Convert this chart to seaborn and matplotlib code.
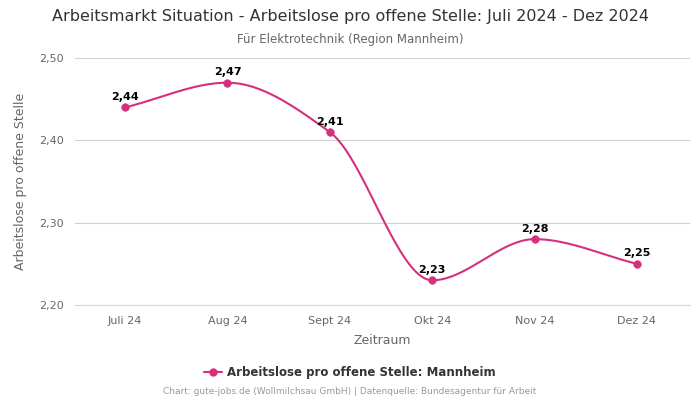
import numpy as np
import pandas as pd
import matplotlib
matplotlib.use("Agg")
import matplotlib.pyplot as plt
import seaborn as sns

# data
months = ["Juli 24", "Aug 24", "Sept 24", "Okt 24", "Nov 24", "Dez 24"]
values = [2.44, 2.47, 2.41, 2.23, 2.28, 2.25]
series_name = "Arbeitslose pro offene Stelle: Mannheim"

line_color = "#d62f7d"


def monotone_curve(x, y, n=40):
    # Fritsch-Carlson monotone cubic interpolation, only for drawing a smooth line
    x = np.asarray(x, float)
    y = np.asarray(y, float)
    h = np.diff(x)
    d = np.diff(y) / h
    m = np.zeros_like(y)
    m[0], m[-1] = d[0], d[-1]
    for i in range(1, len(y) - 1):
        if d[i - 1] * d[i] <= 0:
            m[i] = 0
        else:
            m[i] = 2 / (1 / d[i - 1] + 1 / d[i])
    xs, ys = [], []
    for i in range(len(x) - 1):
        t = np.linspace(0, 1, n)
        h00 = 2 * t**3 - 3 * t**2 + 1
        h10 = t**3 - 2 * t**2 + t
        h01 = -2 * t**3 + 3 * t**2
        h11 = t**3 - t**2
        xs.append(x[i] + t * h[i])
        ys.append(h00 * y[i] + h10 * h[i] * m[i] + h01 * y[i + 1] + h11 * h[i] * m[i + 1])
    return np.concatenate(xs), np.concatenate(ys)


df = pd.DataFrame({"pos": np.arange(len(months)), "Monat": months, "Wert": values})
xs, ys = monotone_curve(df.pos, df.Wert)
df_curve = pd.DataFrame({"x": xs, "y": ys})

sns.set_theme(style="white")
plt.rcParams["font.family"] = ["DejaVu Sans"]

fig = plt.figure(figsize=(7, 4), dpi=100)
ax = fig.add_axes([0.107, 0.2375, 0.879, 0.6175])

sns.lineplot(data=df_curve, x="x", y="y", ax=ax, color=line_color, linewidth=1.5, sort=False)
sns.scatterplot(data=df, x="pos", y="Wert", ax=ax, color=line_color, s=30, edgecolor=line_color, zorder=3)

# data labels
for p, v in zip(df.pos, df.Wert):
    ax.annotate(f"{v:.2f}".replace(".", ","), (p, v), xytext=(0, 4), textcoords="offset points",
                ha="center", va="bottom", fontsize=8, fontweight="bold", color="black")

ax.set_xlim(-0.49, 5.52)
ax.set_ylim(2.20, 2.50)
ax.set_yticks([2.20, 2.30, 2.40, 2.50])
ax.set_yticklabels([f"{t:.2f}".replace(".", ",") for t in [2.20, 2.30, 2.40, 2.50]])
ax.set_xticks(df.pos)
ax.set_xticklabels(months)
ax.tick_params(axis="both", labelsize=8, labelcolor="#666666", length=0, pad=8)
ax.grid(axis="y", color="#d0d0d0", linewidth=0.8)
ax.grid(axis="x", visible=False)
for s in ["top", "right", "left"]:
    ax.spines[s].set_visible(False)
ax.spines["bottom"].set_color("#ccd6eb")
ax.spines["bottom"].set_linewidth(0.8)

ax.set_xlabel("Zeitraum", fontsize=9, color="#666666", labelpad=6)
ax.set_ylabel("Arbeitslose pro offene Stelle", fontsize=9, color="#666666", labelpad=9)

fig.text(0.5, 0.958, "Arbeitsmarkt Situation - Arbeitslose pro offene Stelle: Juli 2024 - Dez 2024",
         ha="center", va="center", fontsize=11.5, color="#333333")
fig.text(0.5, 0.9, "Für Elektrotechnik (Region Mannheim)", ha="center", va="center",
         fontsize=8.5, color="#666666")

# legend
handle = plt.Line2D([], [], color=line_color, marker="o", markersize=5, linewidth=1.5)
fig.legend([handle], [series_name], loc="center", bbox_to_anchor=(0.5, 0.068), frameon=False,
           prop={"weight": "bold", "size": 8.5}, labelcolor="#333333", handlelength=1.5, handletextpad=0.5)

fig.text(0.5, 0.02, "Chart: gute-jobs.de (Wollmilchsau GmbH) | Datenquelle: Bundesagentur für Arbeit",
         ha="center", va="center", fontsize=6.5, color="#999999")

fig.savefig("out.png", dpi=100)
